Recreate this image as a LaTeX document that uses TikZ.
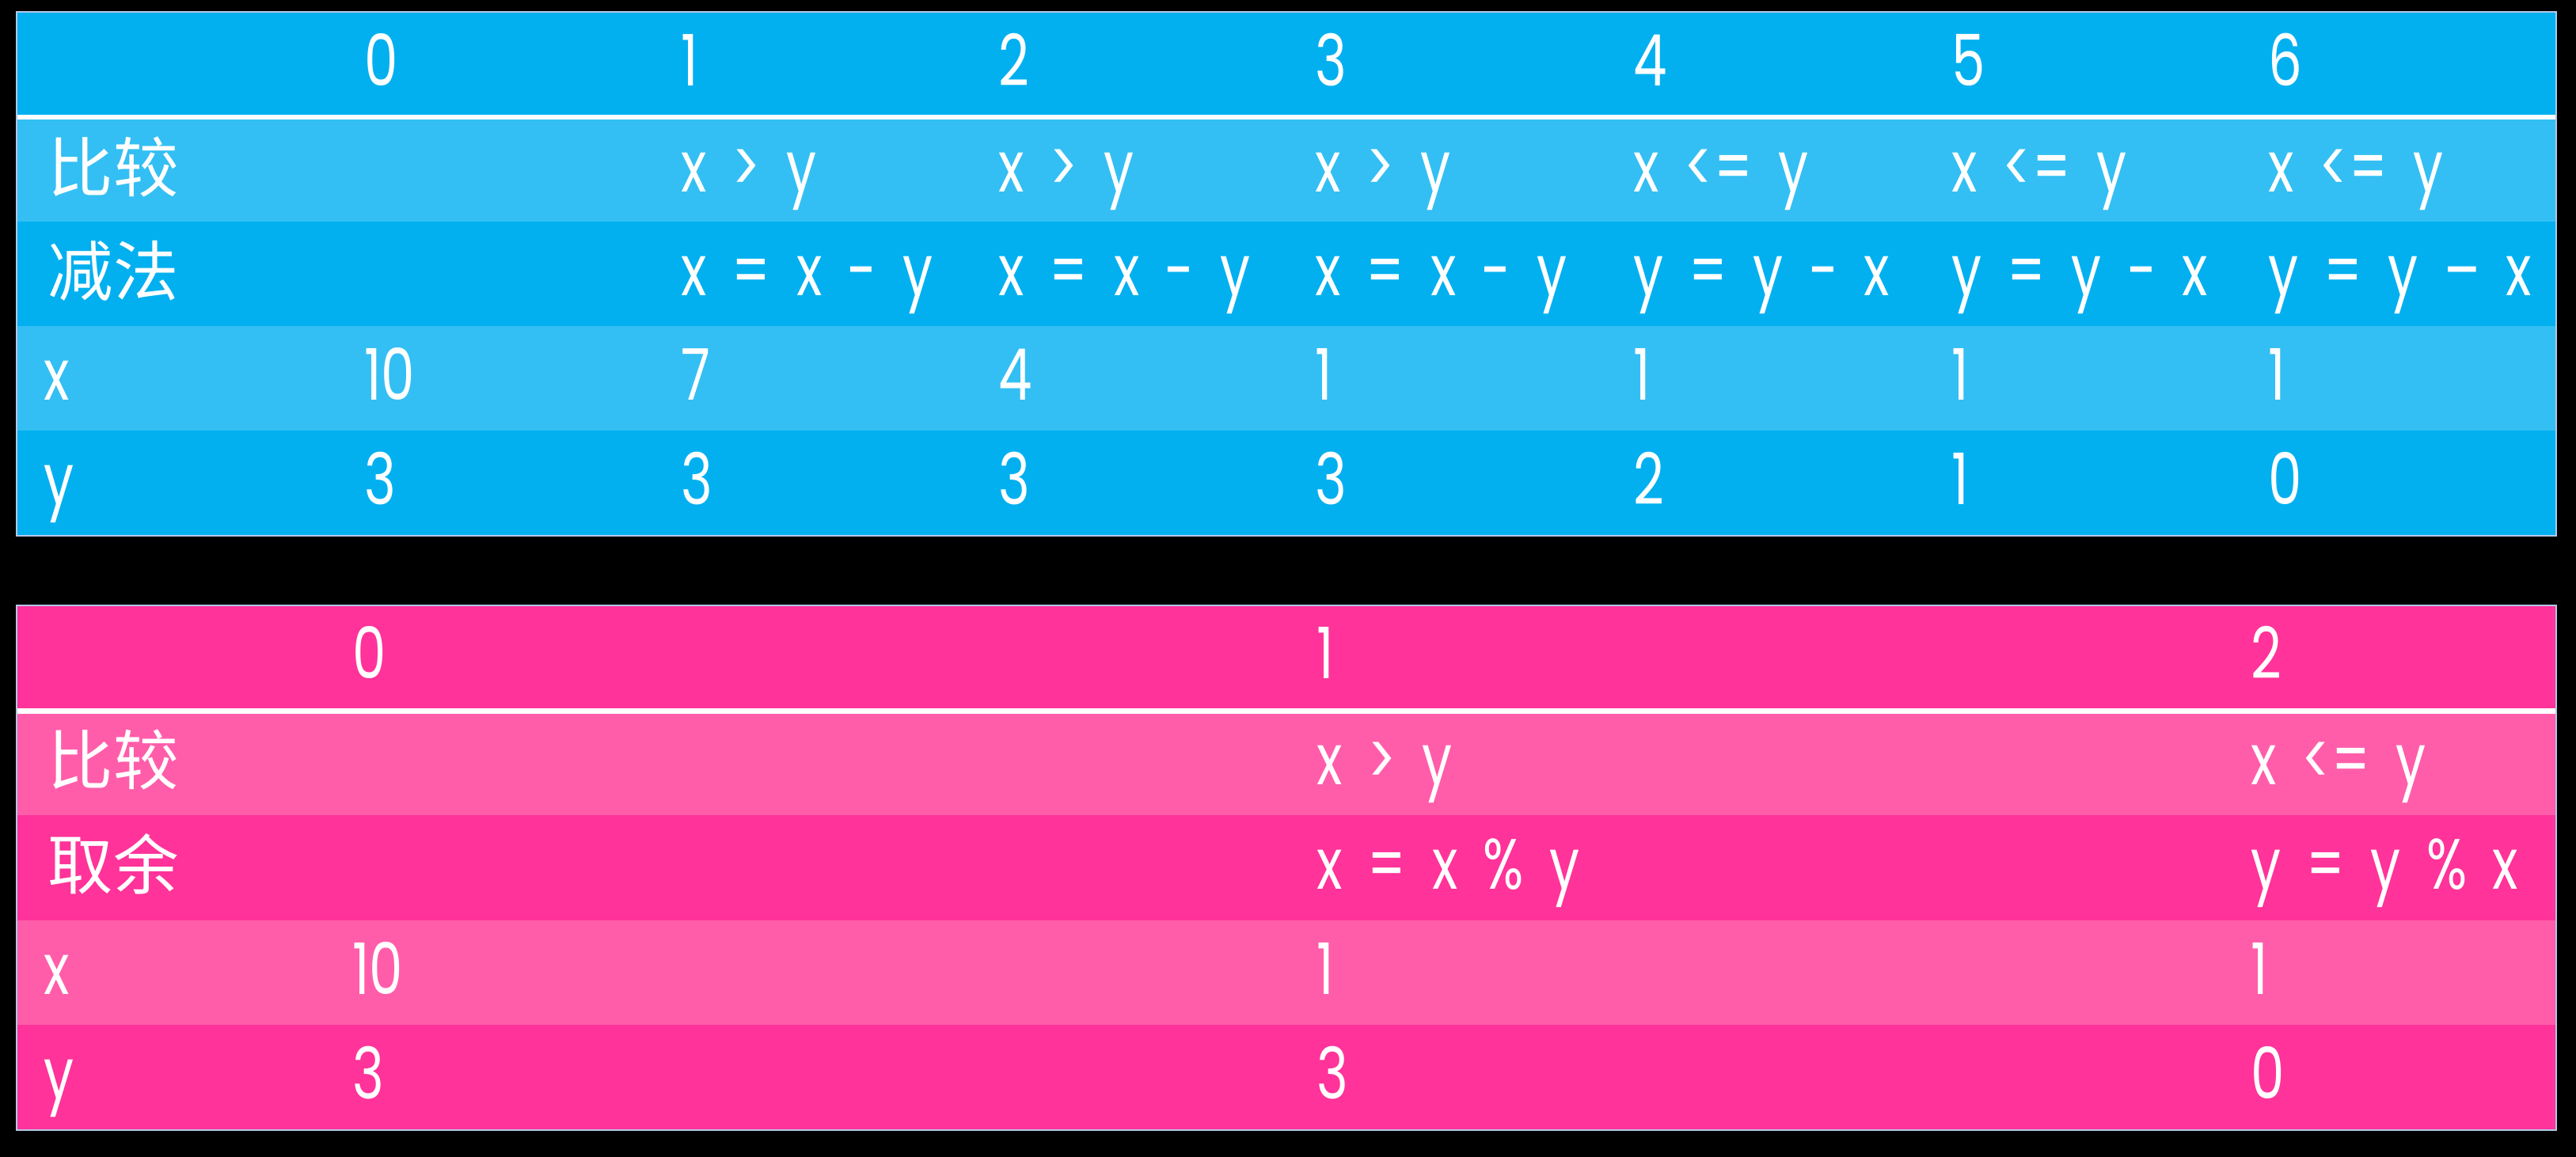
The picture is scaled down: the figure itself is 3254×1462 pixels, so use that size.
\documentclass[tikz,border=0pt]{standalone}
\usepackage{fontspec}
\setmainfont{Poppins}[FakeStretch=0.75,WordSpace=1.8]
\newfontfamily\cjk{Noto Sans CJK SC}
\definecolor{bluedark}{HTML}{02B0F0}
\definecolor{bluelight}{HTML}{33BFF3}
\definecolor{pinkdark}{HTML}{FF3399}
\definecolor{pinklight}{HTML}{FF5DAA}
\definecolor{framegrey}{HTML}{B4C7E7}

\begin{document}
\begin{tikzpicture}[x=0.2pt, y=-0.2pt,
                    cell node/.style={anchor=base west, inner sep=0pt, text=white, font=\fontsize{18}{20}\selectfont},
                    label node/.style={cell node, font=\cjk\fontsize{16.5}{18}\selectfont}]

  \fill[black] (0,0) rectangle (3254,1462);
  \useasboundingbox (0,0) rectangle (3254,1462);

  % subtraction table
  \fill[bluedark]  (21,15)  rectangle (3229,146);
  \fill[bluelight] (21,151) rectangle (3229,280);
  \fill[bluedark]  (21,280) rectangle (3229,412);
  \fill[bluelight] (21,412) rectangle (3229,544);
  \fill[bluedark]  (21,544) rectangle (3229,677);
  \fill[white]     (21,145) rectangle (3229,151);
  \draw[framegrey, line width=0.5pt] (21,15) rectangle (3229,677);

  \node[cell node] (sub-h0) at (459,109)  {0};
  \node[cell node] (sub-h1) at (859,109)  {1};
  \node[cell node] (sub-h2) at (1260,109) {2};
  \node[cell node] (sub-h3) at (1660,109) {3};
  \node[cell node] (sub-h4) at (2062,109) {4};
  \node[cell node] (sub-h5) at (2464,109) {5};
  \node[cell node] (sub-h6) at (2864,109) {6};

  \node[label node] (sub-cmp) at (60,243) {比较};
  \node[cell node] (sub-cmp1) at (859,243)  {x > y};
  \node[cell node] (sub-cmp2) at (1260,243) {x > y};
  \node[cell node] (sub-cmp3) at (1660,243) {x > y};
  \node[cell node] (sub-cmp4) at (2062,243) {x <= y};
  \node[cell node] (sub-cmp5) at (2464,243) {x <= y};
  \node[cell node] (sub-cmp6) at (2864,243) {x <= y};

  \node[label node] (sub-op) at (60,374) {减法};
  \node[cell node] (sub-op1) at (859,374)  {x = x - y};
  \node[cell node] (sub-op2) at (1260,374) {x = x - y};
  \node[cell node] (sub-op3) at (1660,374) {x = x - y};
  \node[cell node] (sub-op4) at (2062,374) {y = y - x};
  \node[cell node] (sub-op5) at (2464,374) {y = y - x};
  \node[cell node] (sub-op6) at (2864,374) {y = y – x};

  \node[cell node] (sub-x)  at (55,506)   {x};
  \node[cell node] (sub-x0) at (459,506)  {10};
  \node[cell node] (sub-x1) at (859,506)  {7};
  \node[cell node] (sub-x2) at (1260,506) {4};
  \node[cell node] (sub-x3) at (1660,506) {1};
  \node[cell node] (sub-x4) at (2062,506) {1};
  \node[cell node] (sub-x5) at (2464,506) {1};
  \node[cell node] (sub-x6) at (2864,506) {1};

  \node[cell node] (sub-y)  at (55,638)   {y};
  \node[cell node] (sub-y0) at (459,638)  {3};
  \node[cell node] (sub-y1) at (859,638)  {3};
  \node[cell node] (sub-y2) at (1260,638) {3};
  \node[cell node] (sub-y3) at (1660,638) {3};
  \node[cell node] (sub-y4) at (2062,638) {2};
  \node[cell node] (sub-y5) at (2464,638) {1};
  \node[cell node] (sub-y6) at (2864,638) {0};

  % modulo table
  \fill[pinkdark]  (21,765)  rectangle (3229,896);
  \fill[pinklight] (21,902)  rectangle (3229,1030);
  \fill[pinkdark]  (21,1030) rectangle (3229,1163);
  \fill[pinklight] (21,1163) rectangle (3229,1295);
  \fill[pinkdark]  (21,1295) rectangle (3229,1428);
  \fill[white]     (21,895)  rectangle (3229,902);
  \draw[framegrey, line width=0.5pt] (21,765) rectangle (3229,1428);

  \node[cell node] (mod-h0) at (444,858)  {0};
  \node[cell node] (mod-h1) at (1662,858) {1};
  \node[cell node] (mod-h2) at (2842,858) {2};

  \node[label node] (mod-cmp) at (60,992) {比较};
  \node[cell node] (mod-cmp1) at (1662,992) {x > y};
  \node[cell node] (mod-cmp2) at (2842,992) {x <= y};

  \node[label node] (mod-op) at (60,1124) {取余};
  \node[cell node] (mod-op1) at (1662,1124) {x = x \% y};
  \node[cell node] (mod-op2) at (2842,1124) {y = y \% x};

  \node[cell node] (mod-x)  at (55,1257)   {x};
  \node[cell node] (mod-x0) at (444,1257)  {10};
  \node[cell node] (mod-x1) at (1662,1257) {1};
  \node[cell node] (mod-x2) at (2842,1257) {1};

  \node[cell node] (mod-y)  at (55,1389)   {y};
  \node[cell node] (mod-y0) at (444,1389)  {3};
  \node[cell node] (mod-y1) at (1662,1389) {3};
  \node[cell node] (mod-y2) at (2842,1389) {0};

\end{tikzpicture}
\end{document}
